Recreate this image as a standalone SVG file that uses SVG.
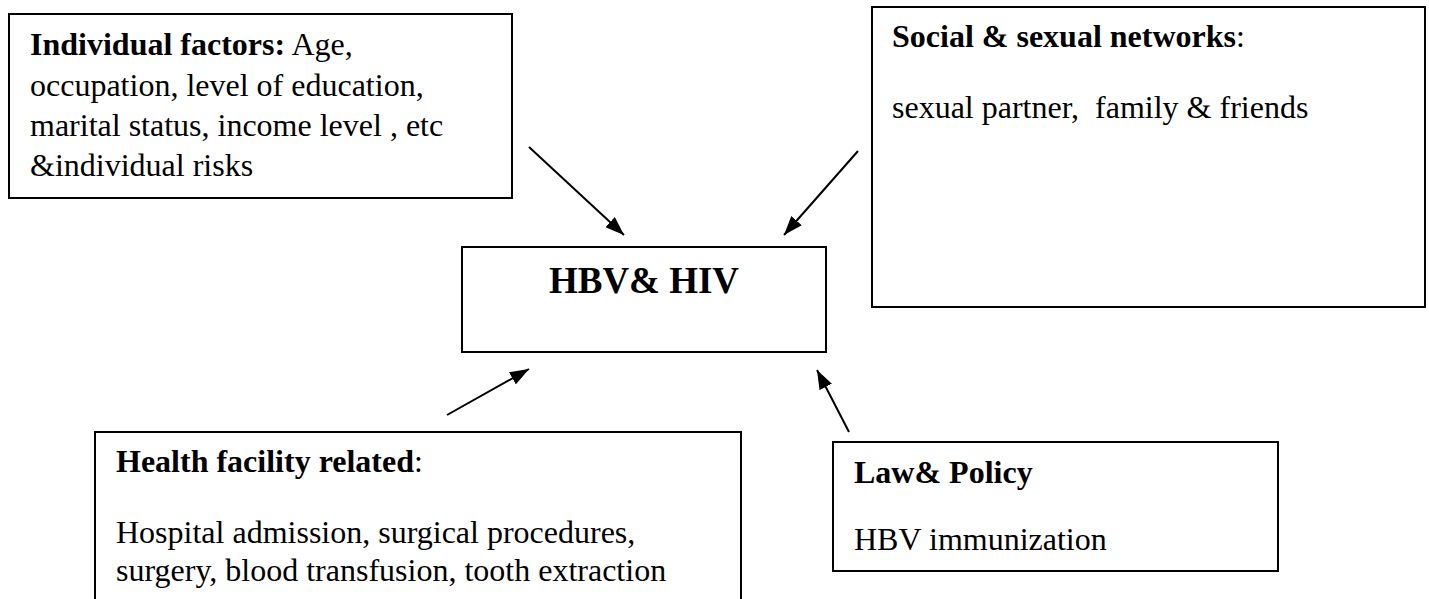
<svg xmlns="http://www.w3.org/2000/svg" width="1429" height="599" viewBox="0 0 1429 599">
<defs>
<style>
.box{fill:#fff;stroke:#000;stroke-width:2}
.t{font-family:"Liberation Serif","Times New Roman",serif;font-size:32px;fill:#000;white-space:pre}
.b{font-weight:bold}
.title{font-family:"Liberation Serif","Times New Roman",serif;font-size:37px;font-weight:bold;fill:#000;text-anchor:middle}
.arrow{stroke:#000;stroke-width:2;fill:none;marker-end:url(#ah)}
</style>
<marker id="ah" markerUnits="userSpaceOnUse" markerWidth="20" markerHeight="14" refX="19" refY="7" orient="auto">
<path d="M0,0 L19,7 L0,14 Z" fill="#000"/>
</marker>
</defs>
<rect width="1429" height="599" fill="#fff"/>
<g id="individual">
<rect class="box" x="9" y="14" width="503" height="184"/>
<text class="t" x="30" y="55"><tspan class="b">Individual factors:</tspan> Age,</text>
<text class="t" x="30" y="96">occupation, level of education,</text>
<text class="t" x="30" y="136">marital status, income level , etc</text>
<text class="t" x="30" y="176">&amp;individual risks</text>
</g>
<g id="social">
<rect class="box" x="872" y="7" width="553" height="300"/>
<text class="t" x="892" y="47"><tspan class="b">Social &amp; sexual networks</tspan>:</text>
<text class="t" x="892" y="118">sexual partner,  family &amp; friends</text>
</g>
<g id="hbvhiv">
<rect class="box" x="462" y="247" width="364" height="105"/>
<text class="title" x="644" y="293">HBV&amp; HIV</text>
</g>
<g id="health">
<path class="box" d="M95,620 V432 H741 V620"/>
<text class="t" x="116" y="472"><tspan class="b">Health facility related</tspan>:</text>
<text class="t" x="116" y="543">Hospital admission, surgical procedures,</text>
<text class="t" x="116" y="581">surgery, blood transfusion, tooth extraction</text>
</g>
<g id="law">
<rect class="box" x="833" y="442" width="445" height="129"/>
<text class="t" x="854" y="483"><tspan class="b">Law&amp; Policy</tspan></text>
<text class="t" x="854" y="550">HBV immunization</text>
</g>
<g id="connectors">
<line class="arrow" x1="529" y1="147" x2="624" y2="235"/>
<line class="arrow" x1="858" y1="151" x2="784" y2="235"/>
<line class="arrow" x1="447" y1="415" x2="529" y2="369"/>
<line class="arrow" x1="849" y1="432" x2="817" y2="370"/>
</g>
</svg>
